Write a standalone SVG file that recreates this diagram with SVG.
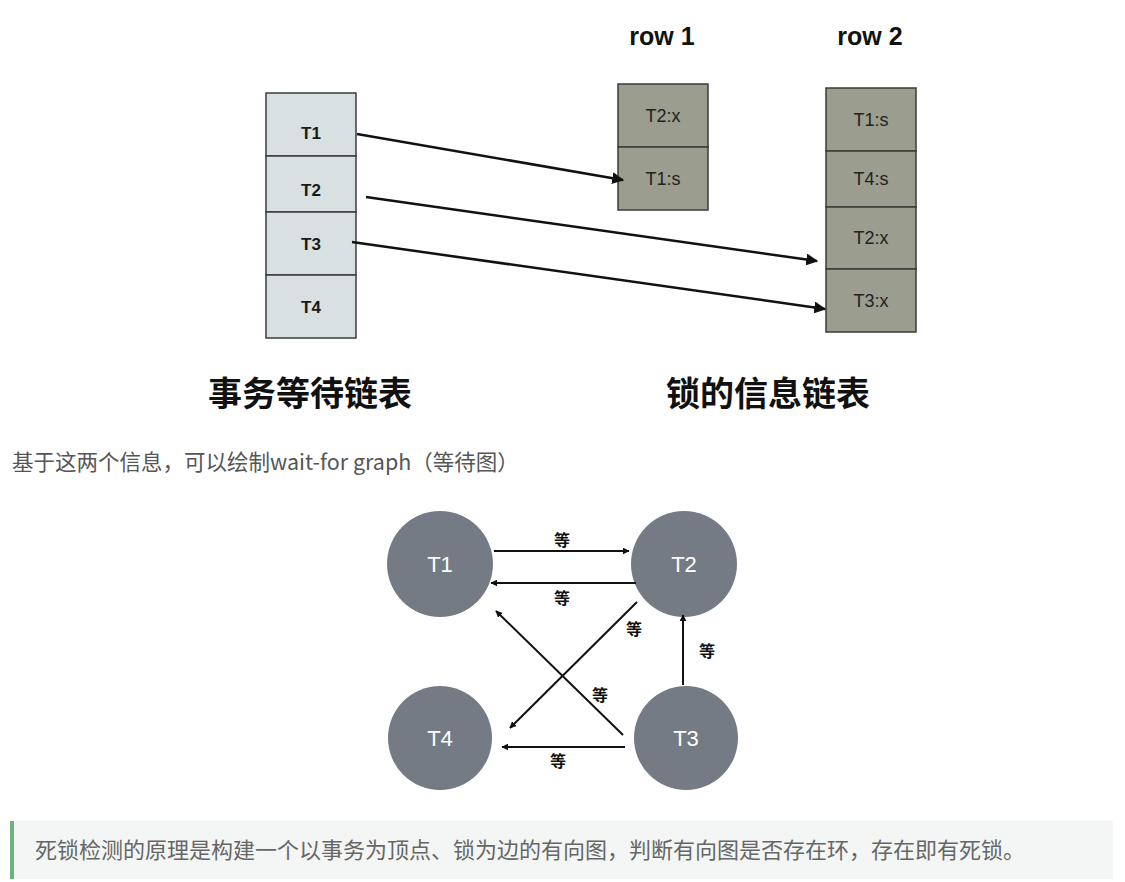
<svg xmlns="http://www.w3.org/2000/svg" width="1125" height="882" viewBox="0 0 1125 882">
<defs>
<style>
.cellL{fill:#d9e0e1;stroke:#3a3d3f;stroke-width:1.5}
.cellR{fill:#9b9d8f;stroke:#3a3c36;stroke-width:1.5}
.tl{font-family:"Liberation Sans",Arial,sans-serif;font-size:17px;font-weight:bold;fill:#1a1a1a;text-anchor:middle}
.tr{font-family:"Liberation Sans",Arial,sans-serif;font-size:18px;fill:#222;text-anchor:middle}
.hdr{font-family:"Liberation Sans",Arial,sans-serif;font-size:25px;font-weight:bold;fill:#111;text-anchor:middle}
.title{font-family:"Noto Sans CJK SC",sans-serif;font-size:34px;font-weight:bold;fill:#111;text-anchor:middle}
.para{font-family:"Noto Sans CJK SC",sans-serif;font-size:21.5px;fill:#555}
.note{font-family:"Noto Sans CJK SC",sans-serif;font-size:22px;fill:#666}
.node{fill:#757b84}
.nt{font-family:"Liberation Sans",Arial,sans-serif;font-size:22px;fill:#fff;text-anchor:middle}
.el{font-family:"Noto Sans CJK SC",sans-serif;font-size:16px;font-weight:bold;fill:#111;text-anchor:middle}
.ln{stroke:#111;stroke-width:2;fill:none;marker-end:url(#ah)}
</style>
<marker id="ah" viewBox="0 0 10 10" refX="9" refY="5" markerWidth="7" markerHeight="7" orient="auto" markerUnits="userSpaceOnUse">
<path d="M0,0 L10,5 L0,10 z" fill="#111"/>
</marker>
<marker id="ah2" viewBox="0 0 10 10" refX="9" refY="5" markerWidth="12" markerHeight="12" orient="auto" markerUnits="userSpaceOnUse">
<path d="M0,0 L10,5 L0,10 z" fill="#111"/>
</marker>
</defs>
<rect width="1125" height="882" fill="#fff"/>

<g id="wait-list">
<rect class="cellL" x="266" y="93" width="90" height="63"/>
<rect class="cellL" x="266" y="156" width="90" height="56"/>
<rect class="cellL" x="266" y="212" width="90" height="63"/>
<rect class="cellL" x="266" y="275" width="90" height="63"/>
<text class="tl" x="311" y="139">T1</text>
<text class="tl" x="311" y="196">T2</text>
<text class="tl" x="311" y="250">T3</text>
<text class="tl" x="311" y="313">T4</text>
</g>

<g id="row1">
<text class="hdr" x="662" y="45">row 1</text>
<rect class="cellR" x="618" y="84" width="90" height="63"/>
<rect class="cellR" x="618" y="147" width="90" height="63"/>
<text class="tr" x="663" y="122">T2:x</text>
<text class="tr" x="663" y="185">T1:s</text>
</g>

<g id="row2">
<text class="hdr" x="870" y="45">row 2</text>
<rect class="cellR" x="826" y="88" width="90" height="63"/>
<rect class="cellR" x="826" y="151" width="90" height="56"/>
<rect class="cellR" x="826" y="207" width="90" height="62"/>
<rect class="cellR" x="826" y="269" width="90" height="63"/>
<text class="tr" x="871" y="126">T1:s</text>
<text class="tr" x="871" y="185">T4:s</text>
<text class="tr" x="871" y="244">T2:x</text>
<text class="tr" x="871" y="307">T3:x</text>
</g>

<g id="titles">
<text class="title" x="310" y="406">事务等待链表</text>
<text class="title" x="768" y="406">锁的信息链表</text>
</g>

<g id="top-connectors">
<line x1="357" y1="134" x2="623" y2="180" stroke="#111" stroke-width="2.5" marker-end="url(#ah2)"/>
<line x1="366" y1="197" x2="817" y2="261" stroke="#111" stroke-width="2.5" marker-end="url(#ah2)"/>
<line x1="352" y1="242" x2="825" y2="309" stroke="#111" stroke-width="2.5" marker-end="url(#ah2)"/>
</g>

<text class="para" x="12" y="470">基于这两个信息，可以绘制wait-for graph（等待图）</text>

<g id="T1"><circle class="node" cx="440" cy="564" r="53"/><text class="nt" x="440" y="572">T1</text></g>
<g id="T2"><circle class="node" cx="684" cy="564" r="53"/><text class="nt" x="684" y="572">T2</text></g>
<g id="T3"><circle class="node" cx="686" cy="738" r="52"/><text class="nt" x="686" y="746">T3</text></g>
<g id="T4"><circle class="node" cx="440" cy="738" r="52"/><text class="nt" x="440" y="746">T4</text></g>

<g id="graph-connectors">
<line class="ln" x1="494" y1="551" x2="629" y2="551"/>
<line class="ln" x1="636" y1="583" x2="491" y2="583"/>
<line class="ln" x1="637" y1="602" x2="510" y2="728"/>
<line class="ln" x1="623" y1="735" x2="496" y2="611"/>
<line class="ln" x1="683" y1="685" x2="683" y2="615"/>
<line class="ln" x1="625" y1="747" x2="502" y2="747"/>
<text class="el" x="562" y="546">等</text>
<text class="el" x="562" y="604">等</text>
<text class="el" x="634" y="635">等</text>
<text class="el" x="600" y="701">等</text>
<text class="el" x="707" y="657">等</text>
<text class="el" x="558" y="767">等</text>
</g>

<g id="callout">
<rect x="10" y="821" width="1103" height="58" fill="#f3f6f4"/>
<rect x="10" y="821" width="4" height="58" fill="#6cb27e"/>
<text class="note" x="35" y="858">死锁检测的原理是构建一个以事务为顶点、锁为边的有向图，判断有向图是否存在环，存在即有死锁。</text>
</g>
</svg>
